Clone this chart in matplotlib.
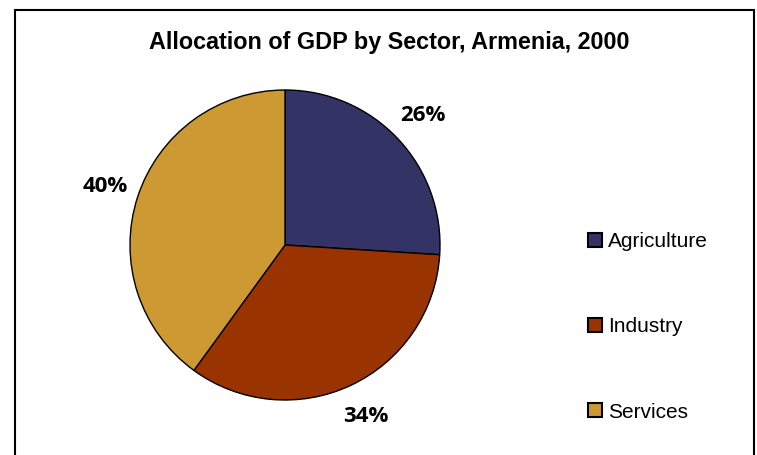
import matplotlib.pyplot as plt
from matplotlib.patches import Rectangle, Patch

sectors = ["Agriculture", "Industry", "Services"]
shares = [26, 34, 40]
colors = ["#333366", "#993300", "#CC9933"]

W, H = 757, 455
fig = plt.figure(figsize=(W / 100, H / 100), dpi=100)

# chart frame
fig.add_artist(Rectangle((15 / W, -0.05), (754 - 15) / W, (H - 10) / H + 0.05,
                         transform=fig.transFigure, fill=False,
                         edgecolor="black", linewidth=1.5))

fig.text(389 / W, 1 - 42 / H, "Allocation of GDP by Sector, Armenia, 2000",
         ha="center", va="center", fontsize=16.8, fontweight="bold",
         family="Liberation Sans")

# pie axes: centre (285, 245), radius 155 px
ax = fig.add_axes([130 / W, (H - 400) / H, 310 / W, 310 / H])
wedges, texts, autotexts = ax.pie(
    shares, colors=colors, startangle=90, counterclock=False,
    autopct="%d%%", pctdistance=1.22,
    wedgeprops=dict(edgecolor="black", linewidth=1))
for t in autotexts:
    t.set_fontsize(16)
    t.set_fontweight("bold")
    t.set_family("Open Sans")
ax.set_xlim(-1, 1)
ax.set_ylim(-1, 1)
ax.set_aspect("equal")

handles = [Patch(facecolor=c, edgecolor="black", linewidth=1.5) for c in colors]
fig.legend(handles, sectors, loc="upper left", bbox_to_anchor=(588 / W, 1 - 232 / H),
           frameon=False, prop={"family": "Liberation Sans", "size": 15},
           labelspacing=3.18, handlelength=0.68, handleheight=0.68, handletextpad=0.3,
           borderpad=0, borderaxespad=0)

fig.savefig("out.png", dpi=100)
